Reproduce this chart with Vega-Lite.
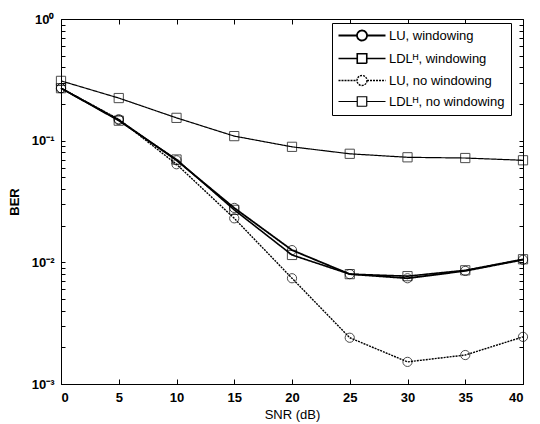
{
  "$schema": "https://vega.github.io/schema/vega-lite/v6.json",
  "width": 462,
  "height": 365,
  "autosize": {"type": "none"},
  "padding": {"left": 61, "top": 19, "right": 17, "bottom": 40},
  "background": "white",
  "config": {
    "view": {"stroke": "black", "strokeWidth": 1},
    "font": "Liberation Sans",
    "axis": {"domainColor": "black", "tickColor": "black", "labelColor": "black", "titleColor": "black", "grid": false}
  },
  "data": {
    "values": [
      {"snr": 0, "ber": 0.27, "series": "LU, windowing"},
      {"snr": 5, "ber": 0.148, "series": "LU, windowing"},
      {"snr": 10, "ber": 0.069, "series": "LU, windowing"},
      {"snr": 15, "ber": 0.028, "series": "LU, windowing"},
      {"snr": 20, "ber": 0.0126, "series": "LU, windowing"},
      {"snr": 25, "ber": 0.008, "series": "LU, windowing"},
      {"snr": 30, "ber": 0.0074, "series": "LU, windowing"},
      {"snr": 35, "ber": 0.0085, "series": "LU, windowing"},
      {"snr": 40, "ber": 0.0105, "series": "LU, windowing"},
      {"snr": 0, "ber": 0.27, "series": "LDLᴴ, windowing"},
      {"snr": 5, "ber": 0.146, "series": "LDLᴴ, windowing"},
      {"snr": 10, "ber": 0.07, "series": "LDLᴴ, windowing"},
      {"snr": 15, "ber": 0.027, "series": "LDLᴴ, windowing"},
      {"snr": 20, "ber": 0.0115, "series": "LDLᴴ, windowing"},
      {"snr": 25, "ber": 0.008, "series": "LDLᴴ, windowing"},
      {"snr": 30, "ber": 0.0077, "series": "LDLᴴ, windowing"},
      {"snr": 35, "ber": 0.0086, "series": "LDLᴴ, windowing"},
      {"snr": 40, "ber": 0.0106, "series": "LDLᴴ, windowing"},
      {"snr": 0, "ber": 0.27, "series": "LU, no windowing"},
      {"snr": 5, "ber": 0.15, "series": "LU, no windowing"},
      {"snr": 10, "ber": 0.064, "series": "LU, no windowing"},
      {"snr": 15, "ber": 0.023, "series": "LU, no windowing"},
      {"snr": 20, "ber": 0.0074, "series": "LU, no windowing"},
      {"snr": 25, "ber": 0.0024, "series": "LU, no windowing"},
      {"snr": 30, "ber": 0.00152, "series": "LU, no windowing"},
      {"snr": 35, "ber": 0.00173, "series": "LU, no windowing"},
      {"snr": 40, "ber": 0.00244, "series": "LU, no windowing"},
      {"snr": 0, "ber": 0.31, "series": "LDLᴴ, no windowing"},
      {"snr": 5, "ber": 0.224, "series": "LDLᴴ, no windowing"},
      {"snr": 10, "ber": 0.154, "series": "LDLᴴ, no windowing"},
      {"snr": 15, "ber": 0.109, "series": "LDLᴴ, no windowing"},
      {"snr": 20, "ber": 0.089, "series": "LDLᴴ, no windowing"},
      {"snr": 25, "ber": 0.078, "series": "LDLᴴ, no windowing"},
      {"snr": 30, "ber": 0.073, "series": "LDLᴴ, no windowing"},
      {"snr": 35, "ber": 0.072, "series": "LDLᴴ, no windowing"},
      {"snr": 40, "ber": 0.069, "series": "LDLᴴ, no windowing"}
    ]
  },
  "layer": [
    {
      "mark": {"type": "line", "color": "black"},
      "encoding": {
        "x": {
          "field": "snr", "type": "quantitative",
          "scale": {"domain": [0, 40], "nice": false},
          "axis": {
            "orient": "bottom",
            "values": [0, 5, 10, 15, 20, 25, 30, 35, 40],
            "title": "SNR (dB)",
            "labelFontSize": 13, "labelFontWeight": "bold",
            "titleFontSize": 13, "titleFontWeight": "normal",
            "tickSize": -5, "labelPadding": 12, "titlePadding": 4
          }
        },
        "y": {
          "field": "ber", "type": "quantitative",
          "scale": {"type": "log", "domain": [0.001, 1], "nice": false},
          "axis": {
            "orient": "left",
            "values": [0.001, 0.002, 0.003, 0.004, 0.005, 0.006, 0.007, 0.008, 0.009, 0.01, 0.02, 0.03, 0.04, 0.05, 0.06, 0.07, 0.08, 0.09, 0.1, 0.2, 0.3, 0.4, 0.5, 0.6, 0.7, 0.8, 0.9, 1],
            "labelExpr": "abs(datum.value-1)<1e-9 ? '10⁰' : abs(datum.value-0.1)<1e-9 ? '10⁻¹' : abs(datum.value-0.01)<1e-10 ? '10⁻²' : abs(datum.value-0.001)<1e-11 ? '10⁻³' : ''",
            "labelOverlap": false,
            "labelFontSize": 13, "labelFontWeight": "bold",
            "title": "BER", "titleFontSize": 13, "titleFontWeight": "bold",
            "tickSize": -4, "labelPadding": 11, "titlePadding": 10
          }
        },
        "strokeDash": {
          "field": "series", "type": "nominal",
          "scale": {
            "domain": ["LU, windowing", "LDLᴴ, windowing", "LU, no windowing", "LDLᴴ, no windowing"],
            "range": [[1, 0], [1, 0], [2, 1], [1, 0]]
          },
          "legend": {
            "title": null, "orient": "none", "legendX": 271, "legendY": 4,
            "strokeColor": "black", "fillColor": "white", "padding": 6,
            "labelFontSize": 13, "labelColor": "black",
            "symbolSize": 100, "symbolStrokeColor": "black", "symbolFillColor": "transparent",
            "rowPadding": 5,
            "encode": {
              "legend": {
                "update": {"width": {"value": 180}}
              },
              "symbols": {
                "update": {
                  "x": {"value": 24},
                  "shape": {"signal": "indexof(datum.value,'LU')===0 ? 'M-4.7,0H-1M1,0H4.7M1,0A1,1,0,1,1,-1,0A1,1,0,1,1,1,0Z' : 'M-4.7,0H-0.95M0.95,0H4.7M-0.95,-0.95H0.95V0.95H-0.95Z'"},
                  "fill": {"value": "transparent"},
                  "stroke": {"value": "black"}
                }
              },
              "labels": {
                "update": {"x": {"value": 51}}
              }
            }
          }
        },
        "strokeWidth": {
          "field": "series", "type": "nominal",
          "scale": {
            "domain": ["LU, windowing", "LDLᴴ, windowing", "LU, no windowing", "LDLᴴ, no windowing"],
            "range": [1.8, 1.2, 0.8, 0.9]
          }
        }
      }
    },
    {
      "transform": [{"filter": "indexof(datum.series,'LU')===0"}],
      "mark": {"type": "point", "filled": false, "color": "black", "size": 85, "strokeWidth": 1, "shape": "circle"},
      "encoding": {
        "x": {
          "field": "snr", "type": "quantitative",
          "axis": {"orient": "top", "values": [0, 5, 10, 15, 20, 25, 30, 35, 40], "labels": false, "title": null, "tickSize": -5, "domain": false}
        },
        "y": {
          "field": "ber", "type": "quantitative",
          "axis": {"orient": "right", "values": [0.001, 0.002, 0.003, 0.004, 0.005, 0.006, 0.007, 0.008, 0.009, 0.01, 0.02, 0.03, 0.04, 0.05, 0.06, 0.07, 0.08, 0.09, 0.1, 0.2, 0.3, 0.4, 0.5, 0.6, 0.7, 0.8, 0.9, 1], "labels": false, "title": null, "tickSize": -4, "domain": false}
        }
      }
    },
    {
      "transform": [{"filter": "indexof(datum.series,'LU')!==0"}],
      "mark": {"type": "point", "filled": false, "color": "black", "size": 85, "strokeWidth": 1, "shape": "square"},
      "encoding": {
        "x": {"field": "snr", "type": "quantitative", "axis": null},
        "y": {"field": "ber", "type": "quantitative", "axis": null}
      }
    }
  ],
  "resolve": {"axis": {"x": "independent", "y": "independent"}}
}
